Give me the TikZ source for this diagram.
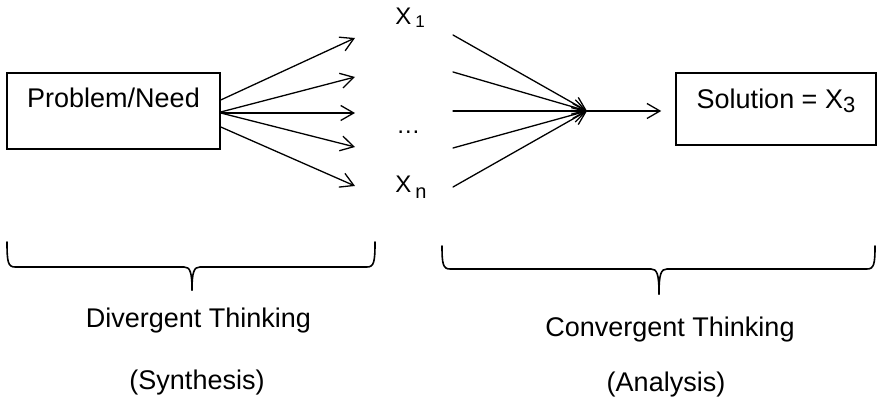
\documentclass[tikz,border=0pt]{standalone}
\usepackage{fontspec}
\setmainfont{Liberation Sans}
\usetikzlibrary{arrows.meta,calc}
\begin{document}
\begin{tikzpicture}[x=0.5pt,y=-0.5pt,
  txt/.style={font=\fontsize{13.5}{16}\selectfont, inner sep=0pt},
  lbl/.style={font=\fontsize{12}{14}\selectfont, inner sep=0pt, anchor=base west},
  box/.style={draw, line width=0.75pt, inner sep=0pt, font=\fontsize{13.5}{16}\selectfont},
  arr/.style={line width=0.65pt, line cap=round, -{Straight Barb[length=6.5pt,width=7.5pt,line width=0.65pt]}},
  bracestyle/.style={line width=0.8pt, line cap=round}]
\useasboundingbox (0,0) rectangle (877,399);

% boxes
\node[box, minimum width=106.5pt, minimum height=38pt, text height=10pt, text depth=13pt] (prob) at (113.5,111) {Problem/Need};
\node[box, minimum width=100pt, minimum height=36pt, text height=8pt, text depth=8pt] (sol) at (776,109) {Solution = X{\fontsize{11}{11}\selectfont\raisebox{-2pt}{3}}};

% labels
\node[lbl] (x1) at (395,25) {X{\kern2pt\raisebox{-1.5pt}{\fontsize{8.5}{9}\selectfont 1}}};
\node[lbl] (dots) at (396,134) {…};
\node[lbl] (xn) at (395,193) {X{\kern2pt\raisebox{-3pt}{\fontsize{10}{11}\selectfont n}}};

% coordinates of the fan
\coordinate (l1) at (355,38);
\coordinate (l2) at (355,77);
\coordinate (l3) at (355,113);
\coordinate (l4) at (355,147);
\coordinate (l5) at (355,186);
\coordinate (r1) at (453,35);
\coordinate (r2) at (453,72);
\coordinate (r3) at (453,111);
\coordinate (r4) at (453,148);
\coordinate (r5) at (453,187);
\coordinate (c) at (587,111);

% divergent arrows
\draw[arr] ($(prob.east)+(0,-11)$) -- (l1);
\draw[arr] ($(prob.east)+(0,1)$) -- (l2);
\draw[arr] ($(prob.east)+(0,2)$) -- (l3);
\draw[arr] ($(prob.east)+(0,2)$) -- (l4);
\draw[arr] ($(prob.east)+(0,16)$) -- (l5);

% convergent arrows
\draw[arr] (r1) -- (c);
\draw[arr] (r2) -- (c);
\draw[arr] (r3) -- (c);
\draw[arr] (r4) -- (c);
\draw[arr] (r5) -- (c);
\draw[arr, shorten >=7pt] (c) -- (sol.west |- c);

% braces
\draw[bracestyle] (7,242) .. controls (7,262) and (8,267) .. (15,267) -- (184,267) .. controls (190,267) and (192,272) .. (192,290);
\draw[bracestyle] (375,242) .. controls (375,262) and (374,267) .. (367,267) -- (200,267) .. controls (194,267) and (192,272) .. (192,290);
\draw[bracestyle] (442,246) .. controls (442,264) and (443,269) .. (450,269) -- (651,269) .. controls (657,269) and (659,274) .. (659,294);
\draw[bracestyle] (875,246) .. controls (875,264) and (874,269) .. (867,269) -- (667,269) .. controls (661,269) and (659,274) .. (659,294);

% captions
\node[txt, anchor=base] (div) at (198.5,328) {Divergent Thinking};
\node[txt, anchor=base] (syn) at (197,390) {(Synthesis)};
\node[txt, anchor=base] (conv) at (670,337) {Convergent Thinking};
\node[txt, anchor=base] (ana) at (666,392) {(Analysis)};
\end{tikzpicture}
\end{document}
